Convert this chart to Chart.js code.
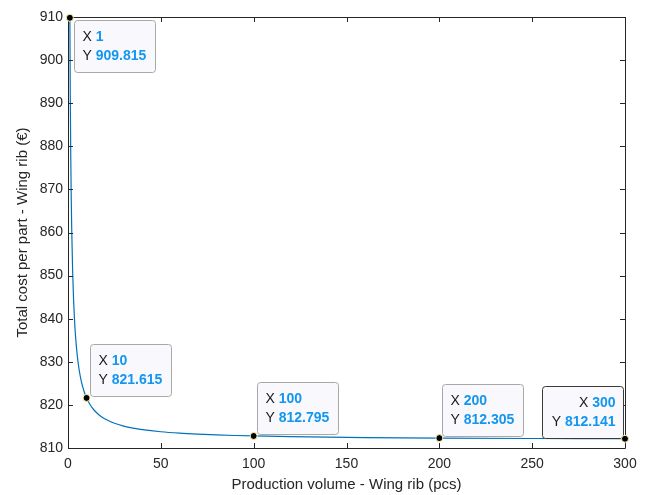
<!DOCTYPE html>
<html>
<head>
<meta charset="utf-8">
<script src="https://cdn.jsdelivr.net/npm/chart.js@4/dist/chart.umd.min.js"></script>
<style>
  html, body { margin: 0; padding: 0; background: #fff; }
  #wrap { width: 646px; height: 495px; }
</style>
</head>
<body>
<div id="wrap"><canvas id="chart" width="646" height="495"></canvas></div>
<script>
// cost curve
const volume = [1, 1.25, 1.5, 1.75, 2, 2.5, 3, 3.5, 4, 5, 6, 7, 8, 9, 10, 12, 14, 16, 18, 20, 25, 30, 35, 40, 50, 60, 70, 80, 90, 100, 120, 140, 160, 180, 200, 250, 300];
const cost = [909.815, 890.215, 877.148, 867.815, 860.815, 851.015, 844.482, 839.815, 836.315, 831.415, 828.148, 825.815, 824.065, 822.704, 821.615, 819.982, 818.815, 817.94, 817.259, 816.715, 815.735, 815.082, 814.615, 814.265, 813.775, 813.448, 813.215, 813.04, 812.904, 812.795, 812.632, 812.515, 812.428, 812.359, 812.305, 812.207, 812.141];

// data tips
const tipX = [1, 10, 100, 200, 300];
const tipY = [909.815, 821.615, 812.795, 812.305, 812.141];

const xTicks = [0, 50, 100, 150, 200, 250, 300];
const yTicks = [810, 820, 830, 840, 850, 860, 870, 880, 890, 900, 910];

const FONT = '"Liberation Sans", Arial, Helvetica, sans-serif';

const boxTicks = {
  id: 'boxTicks',
  afterDraw(chart) {
    const { ctx, chartArea: a, scales: { x, y } } = chart;
    ctx.save();
    ctx.strokeStyle = '#262626';
    ctx.lineWidth = 1;
    ctx.beginPath();
    ctx.rect(Math.round(a.left) + 0.5, Math.round(a.top) + 0.5, Math.round(a.right - a.left), Math.round(a.bottom - a.top));
    xTicks.forEach(v => {
      const px = Math.round(x.getPixelForValue(v)) + 0.5;
      ctx.moveTo(px, a.bottom); ctx.lineTo(px, a.bottom - 5);
      ctx.moveTo(px, a.top); ctx.lineTo(px, a.top + 5);
    });
    yTicks.forEach(v => {
      const py = Math.round(y.getPixelForValue(v)) + 0.5;
      ctx.moveTo(a.left, py); ctx.lineTo(a.left + 5, py);
      ctx.moveTo(a.right, py); ctx.lineTo(a.right - 5, py);
    });
    ctx.stroke();
    ctx.restore();
  }
};

const dataTips = {
  id: 'dataTips',
  afterDraw(chart) {
    const { ctx, scales: { x, y } } = chart;
    ctx.save();
    tipX.forEach((vx, i) => {
      const px = x.getPixelForValue(vx);
      const py = y.getPixelForValue(tipY[i]);
      const last = i === tipX.length - 1;
      const l1 = String(vx), l2 = tipY[i].toFixed(3);
      ctx.font = 'bold 14px ' + FONT;
      const w2 = ctx.measureText(l2).width;
      ctx.font = '14px ' + FONT;
      const wy = ctx.measureText('Y ').width;
      const bw = Math.round(wy + w2 + 17), bh = 52;
      let bx, by;
      if (i === 0) { bx = px + 4; by = py + 2; }
      else if (last) { bx = px - bw - 2; by = py - bh - 1; }
      else { bx = px + 3; by = py - bh - 2; }
      bx = Math.round(bx) + 0.5; by = Math.round(by) + 0.5;
      ctx.fillStyle = '#f8f8fd';
      ctx.strokeStyle = last ? '#3a3a3a' : '#a8a8a8';
      ctx.lineWidth = 1;
      ctx.beginPath();
      ctx.roundRect(bx, by, bw, bh, 3);
      ctx.fill(); ctx.stroke();
      ctx.textBaseline = 'middle';
      const rows = [['X ', l1], ['Y ', l2]];
      rows.forEach((r, k) => {
        const ty = by + 17 + k * 19;
        ctx.font = '14px ' + FONT;
        const wl = ctx.measureText(r[0]).width;
        ctx.font = 'bold 14px ' + FONT;
        const wv = ctx.measureText(r[1]).width;
        let tx = last ? bx + bw - 8 - wl - wv : bx + 8;
        ctx.font = '14px ' + FONT;
        ctx.fillStyle = '#1a1a1a';
        ctx.textAlign = 'left';
        ctx.fillText(r[0], tx, ty);
        ctx.font = 'bold 14px ' + FONT;
        ctx.fillStyle = '#1296f0';
        ctx.fillText(r[1], tx + wl, ty);
      });
      ctx.beginPath();
      ctx.arc(px, py, 3.5, 0, Math.PI * 2);
      ctx.fillStyle = '#000';
      ctx.strokeStyle = '#fff6b0';
      ctx.lineWidth = 1;
      ctx.fill(); ctx.stroke();
    });
    ctx.restore();
  }
};

new Chart(document.getElementById('chart'), {
  type: 'scatter',
  data: {
    datasets: [{
      data: volume.map((v, i) => ({ x: v, y: cost[i] })),
      showLine: true,
      borderColor: '#0072BD',
      borderWidth: 1.2,
      pointRadius: 0,
      tension: 0.3,
      cubicInterpolationMode: 'monotone'
    }]
  },
  options: {
    responsive: false,
    animation: false,
    layout: { padding: { left: 0, right: 21, top: 17, bottom: 0 } },
    plugins: { legend: { display: false }, tooltip: { enabled: false } },
    scales: {
      x: {
        type: 'linear', min: 0, max: 300,
        afterBuildTicks: s => { s.ticks = xTicks.map(v => ({ value: v })); },
        afterFit: s => { s.height = 47; },
        grid: { display: false, drawTicks: false },
        border: { display: false },
        ticks: { color: '#262626', font: { family: FONT, size: 14 }, padding: 8, maxRotation: 0 },
        title: { display: true, text: 'Production volume - Wing rib (pcs)', color: '#262626', font: { family: FONT, size: 15 }, padding: { top: 3, bottom: 1 } }
      },
      y: {
        type: 'linear', min: 810, max: 910,
        afterBuildTicks: s => { s.ticks = yTicks.map(v => ({ value: v })); },
        afterFit: s => { s.width = 68; },
        grid: { display: false, drawTicks: false },
        border: { display: false },
        ticks: { color: '#262626', font: { family: FONT, size: 14 }, padding: 5 },
        title: { display: true, text: 'Total cost per part - Wing rib (€)', color: '#262626', font: { family: FONT, size: 15 }, padding: { top: 14, bottom: 4 } }
      }
    }
  },
  plugins: [boxTicks, dataTips]
});
</script>
</body>
</html>
